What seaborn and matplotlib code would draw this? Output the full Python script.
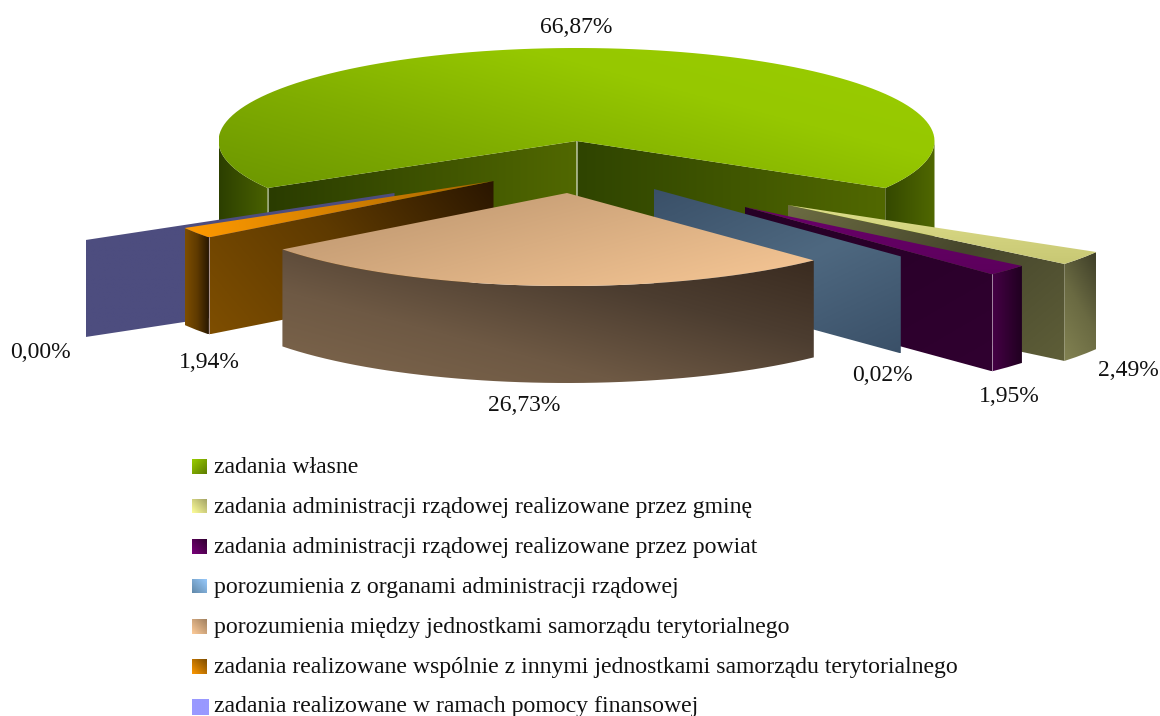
import numpy as np
import seaborn as sns
import matplotlib.pyplot as plt
from matplotlib.patches import Polygon

# share of each task type, clockwise from the big slice
categories = [
    "zadania własne",
    "zadania administracji rządowej realizowane przez gminę",
    "zadania administracji rządowej realizowane przez powiat",
    "porozumienia z organami administracji rządowej",
    "porozumienia między jednostkami samorządu terytorialnego",
    "zadania realizowane wspólnie z innymi jednostkami samorządu terytorialnego",
    "zadania realizowane w ramach pomocy finansowej",
]
shares = [66.87, 2.49, 1.95, 0.02, 26.73, 1.94, 0.00]

# pie geometry in pixels
CX, CY = 576.5, 141
RX, RY = 358, 93
DEPTH = 97
explode = [(0, 0), (211, 64), (168.5, 66), (77.5, 48), (-9.5, 52), (-83, 40), (-182, 52)]
label_pos = [(576, 33), (1128, 376), (1009, 402), (882, 381), (524, 411), (209, 368), (40, 358)]
legend_base = [472.7, 512.7, 552.7, 592.7, 632.7, 672.7, 711.7]
chip_mid = [466.5, 506, 546.5, 586, 626.5, 666.5, 707]
draw_order = [0, 1, 2, 3, 6, 5, 4]

# colour stops and gradient direction (degrees, 90 = downwards on screen)
top_style = [
    (["#9acd00", "#96c800", "#80ad00", "#6c9600"], 105),
    (["#dede8a", "#c8c874"], 90),
    (["#6a006a", "#5c005c"], 90),
    None,
    (["#b8926c", "#f8c896"], 75),
    (["#a86600", "#ff9a00"], 170),
    None,
]
face_style = [
    None,
    (["#6c6c42", "#46462c", "#5e5e38"], 50),
    (["#260026", "#300030"], 60),
    (["#3a5068", "#4e6880", "#3a5068"], 65),
    None,
    (["#2a1600", "#5e3a00", "#7e4e00"], 140),
    (["#4d4d7f", "#4d4d7f"], 0),
]
wall_style = [
    None,
    (["#828252", "#6a6a42", "#3e3e28"], 330),
    (["#460046", "#200020"], 0),
    None,
    (["#7e664c", "#6e5944", "#4c3d30", "#38291e"], 285),
    (["#7e4e00", "#5e3a00", "#241400"], 0),
    None,
]
chip_style = [
    (["#9acd00", "#5c7c00"], 45),
    (["#ffff99", "#a0a064"], 315),
    (["#7a007a", "#300030"], 315),
    (["#9accff", "#6088a8"], 135),
    (["#ffcc99", "#a08060"], 315),
    (["#ff9900", "#7c4c00"], 315),
    (["#9999ff", "#9999ff"], 0),
]

sns.set_theme(style="white")
plt.rcParams["font.family"] = ["Liberation Serif", "DejaVu Serif"]

fig = plt.figure(figsize=(11.6, 7.16), dpi=100)
ax = fig.add_axes([0, 0, 1, 1])


def grad_fill(pts, stops, angle, z):
    pts = np.asarray(pts)
    x0, y0 = pts.min(axis=0)
    x1, y1 = pts.max(axis=0)
    xx, yy = np.meshgrid(np.linspace(x0, x1, 200), np.linspace(y0, y1, 200))
    a = np.deg2rad(angle)
    t = xx * np.cos(a) + yy * np.sin(a)
    t = (t - t.min()) / max(t.max() - t.min(), 1e-9)
    cmap = sns.blend_palette(stops, as_cmap=True)
    im = ax.imshow(t, extent=(x0, x1, y1, y0), cmap=cmap, vmin=0, vmax=1,
                   aspect="auto", zorder=z, interpolation="bilinear")
    im.set_clip_path(Polygon(pts, closed=True, transform=ax.transData))


def arc(t0, t1, ox, oy):
    n = max(int(abs(t0 - t1) / 2), 2)
    t = np.deg2rad(np.linspace(t0, t1, n))
    return np.column_stack([CX + ox + RX * np.cos(t), CY + oy - RY * np.sin(t)])


def drop(pts):
    return np.asarray(pts) + [0, DEPTH]


def radial_face(theta, ox, oy, style, z):
    p = arc(theta, theta, ox, oy)[0]
    apex = (CX + ox, CY + oy)
    quad = [apex, p, (p[0], p[1] + DEPTH), (apex[0], apex[1] + DEPTH)]
    grad_fill(quad, style[0], style[1], z)
    return p


# slice boundaries, the big slice sits centred on the back of the pie
start = 90 + shares[0] * 3.6 / 2
edges = start - np.cumsum([0] + shares) * 3.6

for rank, i in enumerate(draw_order):
    t0, t1 = edges[i], edges[i + 1]
    ox, oy = explode[i]
    z = 2 + rank * 5
    if i == 0:
        # big slice is reflex, both cut faces show
        corner_l = radial_face(t0, ox, oy, (["#2a3c00", "#516800"], 0), z)
        corner_r = radial_face(t1, ox, oy, (["#2f4400", "#516800"], 0), z)
        ax.plot([CX, CX], [CY, CY + DEPTH], color="#9aa880", lw=0.7, zorder=z + 1)
        ax.plot([corner_l[0]] * 2, [corner_l[1], corner_l[1] + DEPTH], color="#9aa880", lw=0.7, zorder=z + 1)
        left = arc(180, t0, ox, oy)
        right = arc(t1, 0, ox, oy)
        grad_fill(np.vstack([left, drop(left)[::-1]]), ["#2c3f00", "#4a6200"], 0, z + 1)
        grad_fill(np.vstack([right, drop(right)[::-1]]), ["#344800", "#506800"], 0, z + 1)
    else:
        if face_style[i] is not None:
            theta = t0 if i == 5 else t1
            radial_face(theta, ox, oy, face_style[i], z)
        if wall_style[i] is not None:
            rim = arc(t0, t1, ox, oy)
            grad_fill(np.vstack([rim, drop(rim)[::-1]]), wall_style[i][0], wall_style[i][1], z + 1)
            near = rim[-1] if i != 5 else rim[0]
            if i in (2, 5):
                ax.plot([near[0]] * 2, [near[1], near[1] + DEPTH], color="#c8b8c8", lw=0.5, zorder=z + 2)
    if top_style[i] is not None:
        top = np.vstack([[(CX + ox, CY + oy)], arc(t0, t1, ox, oy)])
        grad_fill(top, top_style[i][0], top_style[i][1], z + 3)

# percentage labels
for v, (x, y) in zip(shares, label_pos):
    ax.text(x, y, f"{v:.2f}%".replace(".", ","), ha="center", va="baseline",
            fontsize=17, color="#111111", zorder=100)

# legend
for k, (name, base, mid, style) in enumerate(zip(categories, legend_base, chip_mid, chip_style)):
    x1 = 209 if k == 6 else 207
    h = 8 if k == 6 else 7.5
    chip = [(192, mid - h), (x1, mid - h), (x1, mid + h), (192, mid + h)]
    grad_fill(chip, style[0], style[1], 100)
    ax.text(214, base, name, ha="left", va="baseline", fontsize=17.1, color="#111111", zorder=100)

ax.set_xlim(0, 1160)
ax.set_ylim(716, 0)
ax.axis("off")

plt.savefig("out.png", dpi=100)
